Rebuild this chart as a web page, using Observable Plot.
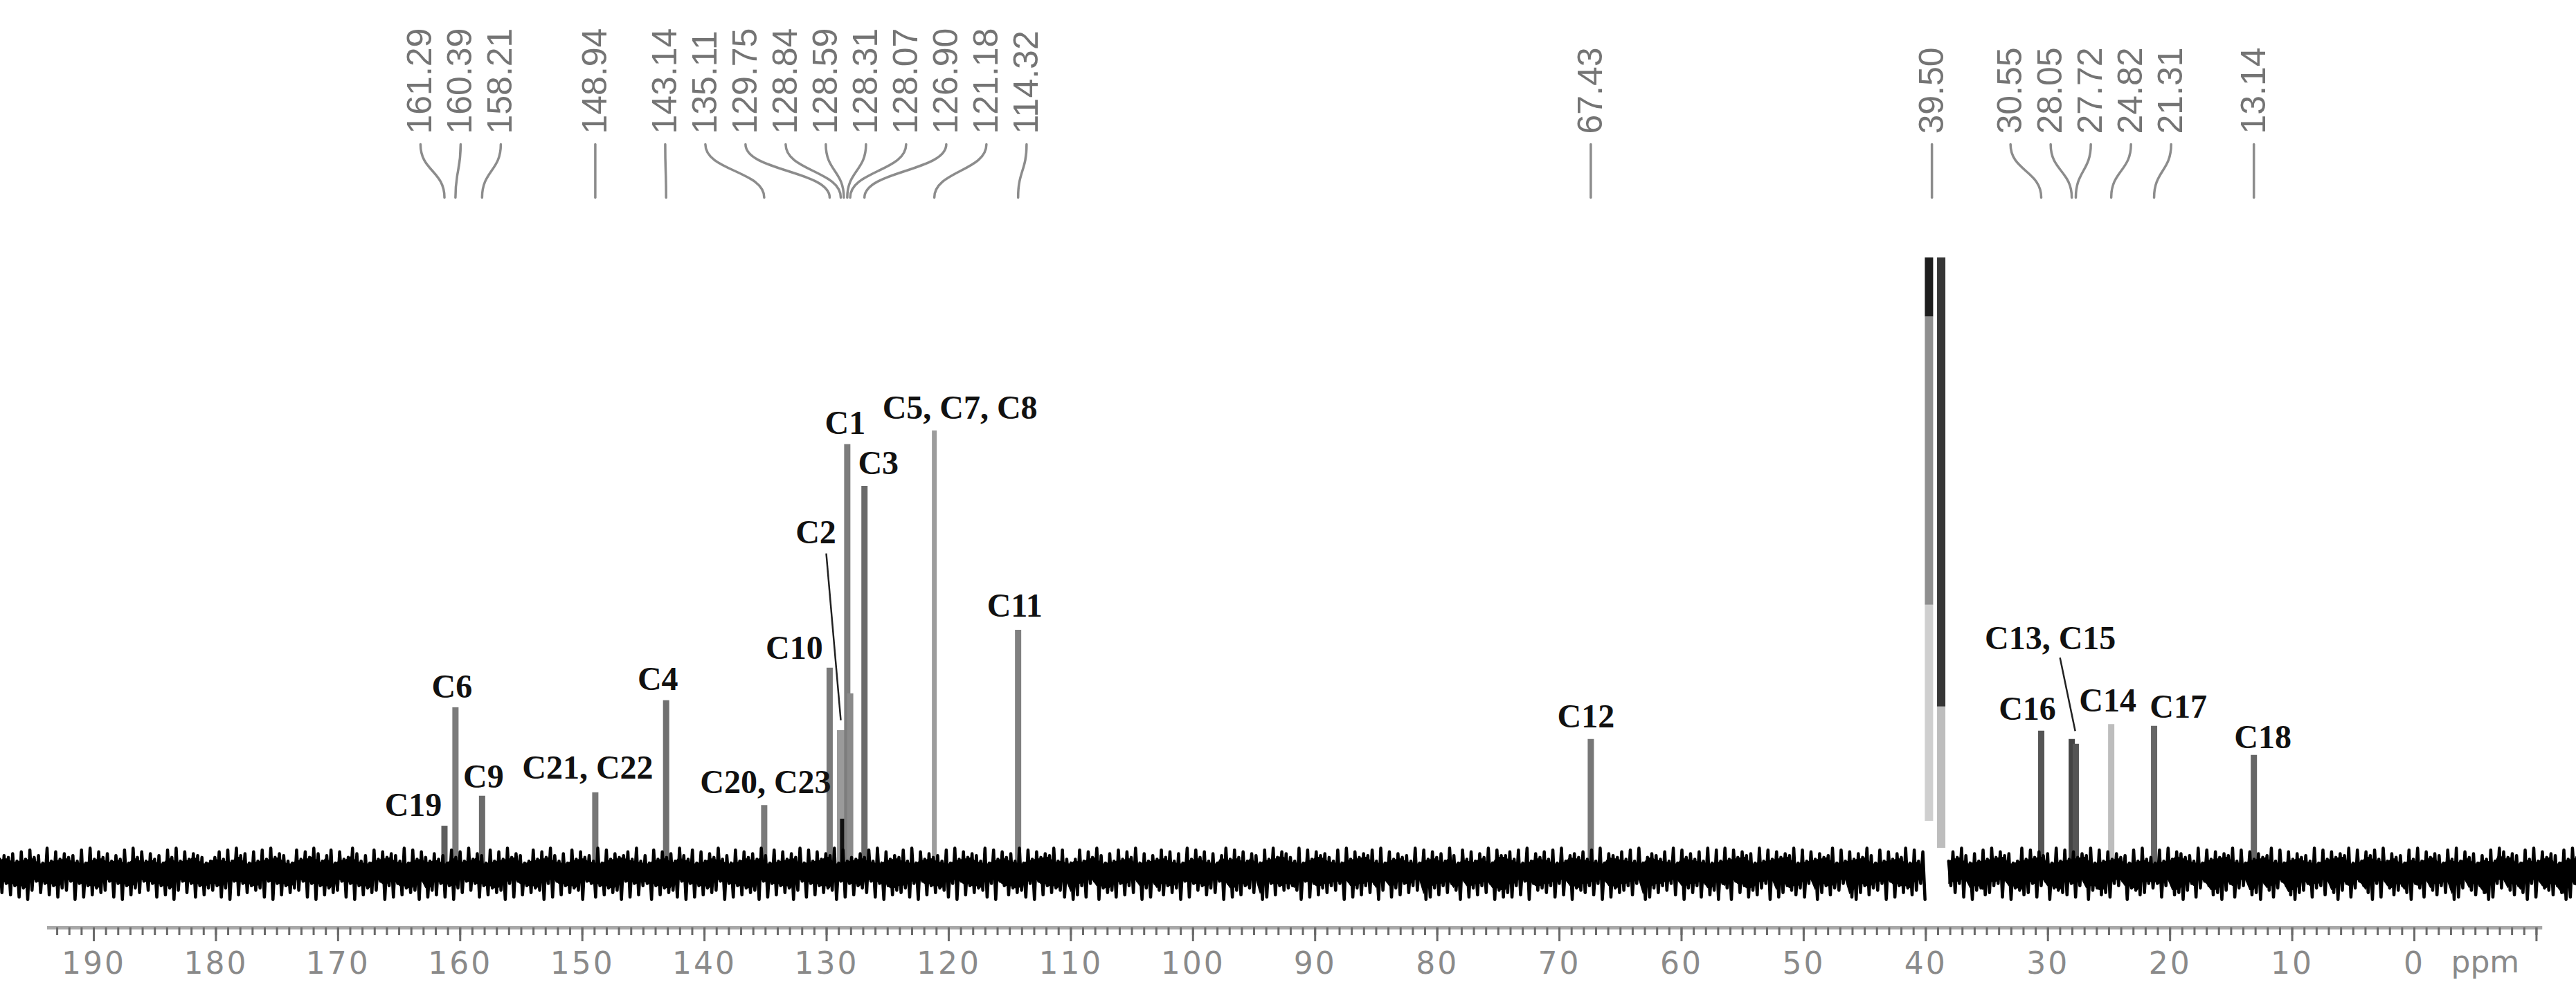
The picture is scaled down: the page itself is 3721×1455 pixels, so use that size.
<!DOCTYPE html>
<html>
<head>
<meta charset="utf-8">
<script src="https://cdn.jsdelivr.net/npm/d3@7"></script>
<script src="https://cdn.jsdelivr.net/npm/@observablehq/plot@0.6"></script>
<style>
  html, body { margin: 0; padding: 0; background: #ffffff; }
  #chart svg { display: block; }
  #chart [aria-label="x-axis tick label"] { fill: #8a8a8a; letter-spacing: 3px; }
  #chart [aria-label="x-axis tick"] { stroke: #6a6a6a; }
</style>
</head>
<body>
<div id="chart"></div>
<script>
// ---------------- DATA ----------------
// 13C chemical shifts (ppm) listed at the top of the spectrum
const shifts = [161.29, 160.39, 158.21, 148.94, 143.14, 135.11, 129.75, 128.84, 128.59, 128.31, 128.07,
                126.90, 121.18, 114.32, 67.43, 39.50, 30.55, 28.05, 27.72, 24.82, 21.31, 13.14];
// peak heights (relative, C5/C7/C8 = 100)
const heights = [10.2, 37.1, 17.0, 17.8, 38.7, 14.9, 46.1, 31.9, 11.8, 96.9, 40.3,
                 87.4, 100, 54.7, 29.9, 139.3, 31.8, 29.9, 28.8, 33.3, 32.9, 26.3];
// carbon assignments (null = no label)
const carbons = ["C19", "C6", "C9", "C21, C22", "C4", "C20, C23", "C10", "C2", null, "C1", null,
                 "C3", "C5, C7, C8", "C11", "C12", null, "C16", "C13, C15", null, "C14", "C17", "C18"];
// solvent (DMSO-d6) multiplet, drawn as two overlapping bars
const solventShift = 39.50;
const solventBarPpm  = [39.74, 39.74, 39.74, 38.74, 38.74];
const solventBarFrom = [11.3, 60.4, 125.9, 5.2, 37.3];
const solventBarTo   = [60.4, 125.9, 139.3, 37.3, 139.3];
// baseline noise: upper and lower excursions, one digit per sample, from 197.7 ppm to -13.3 ppm
const noiseStart = 197.7, noiseEnd = -13.3;
const noiseUpper =
  "35462738451927364528193746253819472635184927365412" +
  "47382956172839465218374962581734962518374652918374" +
  "26351847293651827394651283749526183745291836457392" +
  "51837462953817264935182746395182736491827365918243" +
  "64829173548291736452819374652918374629183746592831" +
  "38274951628374916253847261938472615938472651839476" +
  "42918375642819374658291736452918374629518372649185" +
  "57381926473819256473829165473829146537291846372918" +
  "29384756192837465918273645918273649518273649182735" +
  "63827495162839475612938475619283746591827364518293" +
  "41829376452918374659281736459281736452918374659182" +
  "75839264518392746518392746153829746518392746518394";
const noiseLower =
  "62738495162738451928374651829374615283749516283745" +
  "38491726354819273645182937465182937465193827465918" +
  "57283946152837465928173645928173645912837465918273" +
  "29374658192837465192837465918273649518273645918273" +
  "46182937564829173645829173645829137465829173645829" +
  "73821946582736194825736491825374619285734619827354" +
  "35918274635291847362951847263519847362591847362958" +
  "68371925463827194563729184653721984635271946382759" +
  "24916385742918635748219637452189637452918364752918" +
  "57436281954763281945762831945672831954768231945762" +
  "42831769528413769528431769258413796528437169528413" +
  "69281475369248157362984157369824157369281457369824";
const noiseGaps = [[40.05, 38.45]];
// axis
const majorTicks = [190, 180, 170, 160, 150, 140, 130, 120, 110, 100, 90, 80, 70, 60, 50, 40, 30, 20, 10, 0, -10];
const axisFrom = 193.8, axisTo = -10.5;
const axisUnit = "ppm";

// ---------------- STYLE / LAYOUT ----------------
const W = 3721, H = 1455;
const mL = 135, mR = 234, mT = 0, mB = 115;
const xDomain = [190, 0], yDomain = [-12.9, 197.8];
const xs = d3.scaleLinear(xDomain, [mL, W - mR]);
const ys = d3.scaleLinear(yDomain, [H - mB, mT]);

const peakTone = {
  161.29: "#5e5e5e", 160.39: "#7b7b7b", 158.21: "#6b6b6b", 148.94: "#777777", 143.14: "#707070",
  135.11: "#7a7a7a", 129.75: "#7a7a7a", 128.84: "#9a9a9a", 128.59: "#111111", 128.31: "#7d7d7d",
  128.07: "#8a8a8a", 126.90: "#6a6a6a", 121.18: "#9c9c9c", 114.32: "#808080", 67.43: "#777777",
  30.55: "#555555", 28.05: "#444444", 27.72: "#555555", 24.82: "#bdbdbd", 21.31: "#666666", 13.14: "#666666"
};
const solventTone = ["#cfcfcf", "#8f8f8f", "#1e1e1e", "#bdbdbd", "#363636"];
// label nudges in px relative to the peak top: [dx, dy]
const labelNudge = {
  "C19": [-45, -15], "C6": [-5, -15], "C9": [2, -12], "C21, C22": [-11, -20], "C4": [-12, -15],
  "C20, C23": [2, -18], "C10": [-51, -13], "C2": [-36, -271], "C1": [-3, -15], "C3": [20, -18],
  "C5, C7, C8": [37, -17], "C11": [-5, -20], "C12": [-7, -17], "C16": [-20, -16],
  "C13, C15": [-31, -130], "C14": [-5, -19], "C17": [35, -12], "C18": [13, -10]
};
const leaderNudge = {
  "C2": {from: [-21, -256], to: [0, -15]},
  "C13, C15": {from: [-17, -118], to: [5, -12]}
};
const topLabelBottom = 193, connTop = 208, connBottom = 285, labelGap = 58;

// ---------------- BUILD TABLES ----------------
const peaks = shifts.map((s, i) => ({shift: s, height: heights[i], carbon: carbons[i]}));
const drawnPeaks = peaks.filter(p => p.shift !== solventShift);

// spread the shift labels so they don't overlap
const sorted = peaks.slice().sort((a, b) => xs(a.shift) - xs(b.shift));
let clusters = sorted.map(p => ({items: [p], center: xs(p.shift)}));
let merged = true;
while (merged) {
  merged = false;
  for (let i = 0; i < clusters.length - 1; i++) {
    const a = clusters[i], b = clusters[i + 1];
    const aRight = a.center + (a.items.length - 1) * labelGap / 2;
    const bLeft = b.center - (b.items.length - 1) * labelGap / 2;
    if (bLeft - aRight < labelGap) {
      const items = a.items.concat(b.items);
      clusters.splice(i, 2, {items, center: d3.mean(items, p => xs(p.shift))});
      merged = true;
      break;
    }
  }
}
clusters.forEach(c => c.items.forEach((p, j) => {
  p.labelPpm = xs.invert(c.center + (j - (c.items.length - 1) / 2) * labelGap);
}));

const connectors = peaks.flatMap((p, i) => [
  {id: i, ppm: p.labelPpm, y: ys.invert(connTop)},
  {id: i, ppm: p.shift, y: ys.invert(connBottom)}
]);

const solvent = solventBarPpm.map((ppm, i) => ({ppm, from: solventBarFrom[i], to: solventBarTo[i], tone: solventTone[i]}));

// noise: per sample an upward and a downward excursion
const n = noiseUpper.length;
const step = (noiseEnd - noiseStart) / (n - 1);
const noiseSamples = d3.range(n).map(i => {
  const ppm = noiseStart + step * i;
  const inGap = noiseGaps.some(([a, b]) => ppm <= a && ppm >= b);
  return {
    ppm,
    up: inGap ? NaN : 1.4 + (+noiseUpper[i]) * 0.42,
    down: inGap ? NaN : -(1.8 + (+noiseLower[Math.min(i, noiseLower.length - 1)]) * 0.52)
  };
});
const noiseTrace = noiseSamples.flatMap(s => [
  {ppm: s.ppm, v: s.up},
  {ppm: s.ppm + step / 2, v: s.down}
]);
// dense core of the noise band
const noiseCore = noiseSamples.map((s, i) => {
  const next = noiseSamples[Math.min(i + 1, n - 1)];
  return {ppm: s.ppm, hi: Math.min(s.up, next.up) * 0.9, lo: Math.max(s.down, next.down) * 0.9};
});

const labels = peaks.filter(p => p.carbon).map(p => {
  const [dx, dy] = labelNudge[p.carbon] || [0, -15];
  return {text: p.carbon, x: xs.invert(xs(p.shift) + dx), y: ys.invert(ys(p.height) + dy)};
});
const leaders = peaks.filter(p => p.carbon && leaderNudge[p.carbon]).map(p => {
  const L = leaderNudge[p.carbon];
  return {
    x1: xs.invert(xs(p.shift) + L.from[0]), y1: ys.invert(ys(p.height) + L.from[1]),
    x2: xs.invert(xs(p.shift) + L.to[0]), y2: ys.invert(ys(p.height) + L.to[1])
  };
});
const minorTicks = d3.range(Math.floor(axisFrom), Math.ceil(axisTo) - 1, -1);

// ---------------- PLOT ----------------
const chart = Plot.plot({
  width: W, height: H,
  marginLeft: mL, marginRight: mR, marginTop: mT, marginBottom: mB,
  x: {domain: xDomain, axis: null},
  y: {domain: yDomain, axis: null},
  color: {type: "identity"},
  style: {background: "#ffffff", overflow: "visible"},
  marks: [
    // shift list with connectors
    Plot.line(connectors, {x: "ppm", y: "y", z: "id", curve: "bump-y", stroke: "#8c8c8c", strokeWidth: 3.5}),
    Plot.text(peaks, {
      x: "labelPpm", text: d => d.shift.toFixed(2), frameAnchor: "top", dy: topLabelBottom,
      rotate: -90, textAnchor: "start", lineAnchor: "middle",
      fontSize: 50, fontFamily: "Liberation Sans, Arial, sans-serif", fill: "#747474"
    }),
    // peaks
    Plot.ruleX(drawnPeaks, {x: "shift", y1: 0, y2: "height", stroke: d => peakTone[d.shift] || "#777777",
      strokeWidth: d => d.shift === 121.18 ? 7 : (d.shift === 128.84 || d.shift === 128.59 ? 11 : 9)}),
    // solvent
    Plot.ruleX(solvent, {x: "ppm", y1: "from", y2: "to", stroke: "tone", strokeWidth: 12}),
    // baseline noise
    Plot.areaY(noiseCore, {x: "ppm", y1: "lo", y2: "hi", fill: "#000000", curve: "linear"}),
    Plot.line(noiseTrace, {x: "ppm", y: "v", stroke: "#000000", strokeWidth: 4.5, curve: "linear"}),
    // axis
    Plot.ruleY([yDomain[0]], {x1: axisFrom, x2: axisTo, stroke: "#a8a8a8", strokeWidth: 5}),
    Plot.axisX({ticks: minorTicks, tickSize: 11, tickFormat: () => "", strokeWidth: 3}),
    Plot.axisX({ticks: majorTicks, tickSize: 20, tickPadding: 15, strokeWidth: 3,
      tickFormat: d => (d < 0 ? "" : String(d)), fontSize: 44, fontFamily: "DejaVu Sans, Verdana, sans-serif"}),
    Plot.text([axisUnit], {frameAnchor: "bottom-right", dx: 53, dy: 64, textAnchor: "start", lineAnchor: "bottom",
      fontSize: 44, fontFamily: "DejaVu Sans, Verdana, sans-serif", fill: "#8a8a8a", text: d => d}),
    // assignments
    Plot.link(leaders, {x1: "x1", y1: "y1", x2: "x2", y2: "y2", stroke: "#222222", strokeWidth: 2.5}),
    Plot.text(labels, {x: "x", y: "y", text: "text", textAnchor: "middle", lineAnchor: "bottom",
      fontSize: 48, fontWeight: "bold", fontFamily: "Liberation Serif, Times New Roman, serif", fill: "#111111"})
  ]
});
document.getElementById("chart").appendChild(chart);
</script>
</body>
</html>
